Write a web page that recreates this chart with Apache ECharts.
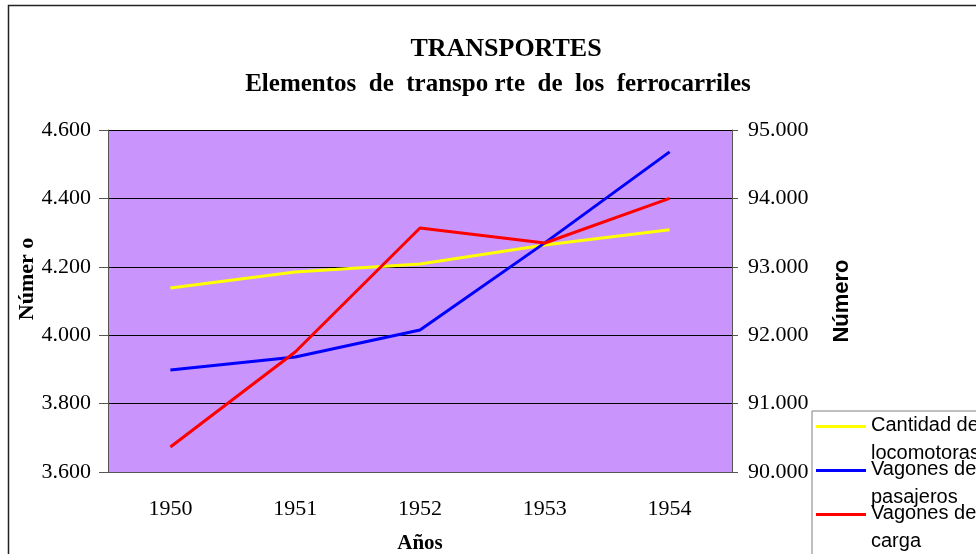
<!DOCTYPE html>
<html>
<head>
<meta charset="utf-8">
<script src="https://cdn.jsdelivr.net/npm/echarts@6/dist/echarts.min.js"></script>
<style>
  html, body { margin: 0; padding: 0; background: #fff; }
  #chart { width: 976px; height: 554px; }
</style>
</head>
<body>
<div id="chart"></div>
<script>
// datos
const years = ['1950', '1951', '1952', '1953', '1954']
const locomotoras = [4138, 4185, 4208, 4264, 4308]
const pasajeros = [3898, 3936, 4015, 4270, 4536]
const carga = [90365, 91754, 93567, 93348, 94000]
const seriesNames = ['Cantidad de\nlocomotoras', 'Vagones de\npasajeros', 'Vagones de\ncarga']

const fmt = (v) => String(v).replace(/\B(?=(\d{3})+(?!\d))/g, '.')

const chart = echarts.init(document.getElementById('chart'))

// icono de leyenda: linea arriba, caja de 50x28
const legendIcon = 'path://M0,0H50V3H0Z M0,27.9H0.1V28H0Z'

chart.setOption({
  animation: false,
  title: [
    {
      text: 'TRANSPORTES',
      left: 501, top: 31, textAlign: 'center',
      textStyle: { fontFamily: 'Liberation Serif', fontWeight: 'bold', fontSize: 26, color: '#000' }
    },
    {
      text: 'Elementos  de  transpo rte  de  los  ferrocarriles',
      left: 493, top: 67, textAlign: 'center',
      textStyle: { fontFamily: 'Liberation Serif', fontWeight: 'bold', fontSize: 25, color: '#000' }
    }
  ],
  graphic: [
    {
      type: 'rect',
      shape: { x: 8.5, y: 5.5, width: 1000, height: 600 },
      style: { fill: 'none', stroke: '#222', lineWidth: 1.5 },
      z: -10
    }
  ],
  legend: {
    orient: 'vertical',
    left: 812, top: 411,
    height: 300,
    data: seriesNames,
    icon: legendIcon,
    itemWidth: 50, itemHeight: 28,
    itemGap: -12,
    padding: [0, 40, 6, 4],
    backgroundColor: '#fff',
    borderColor: '#808080', borderWidth: 1,
    textStyle: { fontFamily: 'Liberation Sans', fontSize: 20, color: '#000', lineHeight: 28 }
  },
  grid: {
    left: 108, right: 244, top: 130, bottom: 82,
    outerBoundsMode: 'none',
    containLabel: false,
    show: true, backgroundColor: '#c994fb', borderWidth: 0
  },
  xAxis: {
    type: 'category',
    data: years,
    name: 'Años',
    nameLocation: 'middle',
    nameGap: 61,
    nameTextStyle: { fontFamily: 'Liberation Serif', fontWeight: 'bold', fontSize: 21, color: '#000' },
    axisLine: { lineStyle: { color: '#555', width: 1 } },
    axisTick: { length: 7, lineStyle: { color: '#555' } },
    axisLabel: { margin: 26, fontFamily: 'Liberation Serif', fontSize: 22, color: '#000' }
  },
  yAxis: [
    {
      type: 'value',
      min: 3600, max: 4600, interval: 200,
      name: 'Númer o',
      nameLocation: 'middle',
      nameGap: 70,
      nameMoveOverlap: false,
      nameTextStyle: {
        fontFamily: 'Liberation Serif', fontWeight: 'bold', fontSize: 22, color: '#000',
        padding: [0, 0, 0, 44]
      },
      axisLine: { show: true, lineStyle: { color: '#555' } },
      axisTick: { show: true, length: 9, lineStyle: { color: '#555' } },
      axisLabel: { margin: 17, fontFamily: 'Liberation Serif', fontSize: 22, color: '#000', formatter: fmt },
      splitLine: { lineStyle: { color: '#000', width: 1 } }
    },
    {
      type: 'value',
      min: 90000, max: 95000, interval: 1000,
      name: 'Número',
      nameLocation: 'middle',
      nameGap: 99,
      nameRotate: 90,
      nameMoveOverlap: false,
      nameTextStyle: { fontFamily: 'Liberation Sans', fontWeight: 'bold', fontSize: 22, color: '#000' },
      axisLine: { show: true, lineStyle: { color: '#555' } },
      axisTick: { show: true, length: 6, lineStyle: { color: '#555' } },
      axisLabel: { margin: 16, fontFamily: 'Liberation Serif', fontSize: 22, color: '#000', formatter: fmt },
      splitLine: { show: false }
    }
  ],
  series: [
    {
      name: seriesNames[0], type: 'line', data: locomotoras, yAxisIndex: 0,
      showSymbol: false, lineStyle: { color: '#ffff00', width: 3 }, itemStyle: { color: '#ffff00' }
    },
    {
      name: seriesNames[1], type: 'line', data: pasajeros, yAxisIndex: 0,
      showSymbol: false, lineStyle: { color: '#0000ff', width: 3 }, itemStyle: { color: '#0000ff' }
    },
    {
      name: seriesNames[2], type: 'line', data: carga, yAxisIndex: 1,
      showSymbol: false, lineStyle: { color: '#ff0000', width: 3 }, itemStyle: { color: '#ff0000' }
    }
  ]
})
</script>
</body>
</html>
